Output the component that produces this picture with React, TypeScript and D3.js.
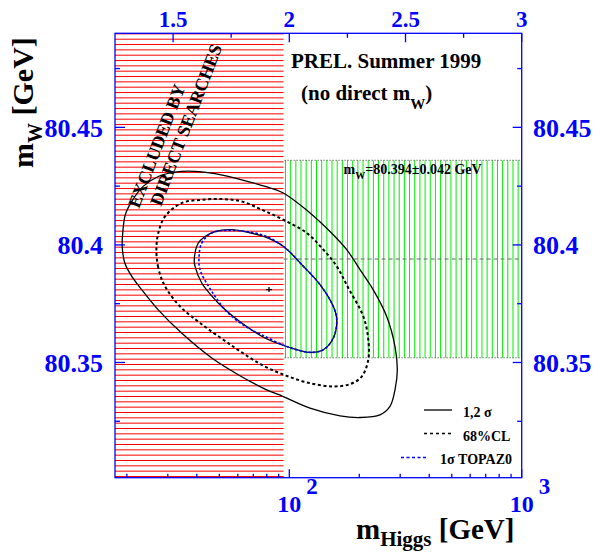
import React from 'react'
import * as d3 from 'd3'

const width = 593
const height = 552

const frame = { left: 115, right: 521.7, top: 33.3, bottom: 477.7 }

const serif = "'Liberation Serif', 'Times New Roman', serif"
const blue = '#0000ff'

// plot extents: Higgs mass (GeV, log) and W mass (GeV)
const mhDomain = [10 ** 1.25, 1000]
const mwDomain = [80.301, 80.49]

// tick values
const topTicks = [1.5, 2, 2.5, 3]
const topMinorTicks = [1.75, 2.25, 2.75]
const bottomLabelTicks = [100, 1000]
const bottomLabelPowers = ['2', '3']
const bottomMinorTicks = [20, 30, 40, 50, 60, 70, 80, 90, 200, 300, 400, 500, 600, 700, 800, 900]
const mwTicks = [80.35, 80.4, 80.45]
const mwTickLabels = ['80.35', '80.4', '80.45']
const mwMinorTicks = [80.325, 80.375, 80.425, 80.475]

// excluded by direct searches, and the direct mW measurement
const excludedLimit = 94.5
const mwDirect = 80.394
const mwDirectError = 0.042

// best fit point [mH, mW]
const fitPoint = [81.8, 80.381]

// contours, [mH (GeV), mW (GeV)]
const contour2Sigma = [
  [19.1, 80.3994], [19.2, 80.4051], [19.7, 80.4129], [21.0, 80.4185], [23.5, 80.4249],
  [27.3, 80.4291], [32.2, 80.431], [39.3, 80.4313], [47.9, 80.4303], [62.4, 80.4277],
  [78.6, 80.4249], [94.2, 80.4221], [122.8, 80.4136], [149.7, 80.4057], [176.6, 80.398],
  [201.5, 80.3895], [229.8, 80.3809], [262.5, 80.3696], [285.0, 80.3568], [291.6, 80.3469],
  [285.0, 80.3384], [271.2, 80.3313], [245.6, 80.3277], [201.5, 80.3266], [165.3, 80.3273],
  [122.8, 80.3306], [94.2, 80.3355], [78.6, 80.3387], [60.3, 80.3448], [46.4, 80.3519],
  [34.4, 80.3625], [27.3, 80.3724], [23.2, 80.3809], [21.0, 80.3866], [19.6, 80.3923],
]

const contour68 = [
  [26.8, 80.398], [27.2, 80.3911], [28.3, 80.3852], [29.8, 80.3809], [33.9, 80.3738],
  [41.3, 80.3668], [57.3, 80.3568], [76.1, 80.349], [97.5, 80.3443], [122.8, 80.3412],
  [154.7, 80.3398], [182.5, 80.3408], [204.9, 80.344], [218.8, 80.3512], [218.8, 80.3597],
  [208.2, 80.3696], [179.4, 80.3817], [160.0, 80.3909], [140.1, 80.398], [118.8, 80.4051],
  [94.2, 80.4107], [76.1, 80.415], [62.4, 80.4185], [51.2, 80.4195], [42.0, 80.4192],
  [34.4, 80.4178], [29.2, 80.4121], [27.3, 80.4051],
]

const contour1Sigma = [
  [39.0, 80.3937], [40.6, 80.4008], [43.4, 80.4036], [47.9, 80.4057], [56.5, 80.4065],
  [66.6, 80.4053], [78.6, 80.4034], [94.2, 80.3994], [114.9, 80.3909], [135.6, 80.3831],
  [154.7, 80.3738], [160.0, 80.3682], [154.7, 80.3604], [140.1, 80.3554], [122.8, 80.3543],
  [97.5, 80.3568], [78.6, 80.3604], [62.4, 80.3668], [51.2, 80.3738], [44.1, 80.3809],
  [42.0, 80.3838], [39.3, 80.3909],
]

const contourTopaz = [
  [40.9, 80.3951], [42.0, 80.4008], [46.4, 80.4051], [56.5, 80.4062], [76.1, 80.4043],
  [94.2, 80.3994], [114.9, 80.3909], [135.6, 80.3831], [154.7, 80.3738], [160.0, 80.3682],
  [154.7, 80.3604], [140.1, 80.3554], [122.8, 80.3543], [97.5, 80.3568], [76.1, 80.3618],
  [66.6, 80.3646], [54.6, 80.371], [46.4, 80.3802], [41.3, 80.3895],
]

const legendLabels = ['1,2 σ', '68%CL', '1σ TOPAZ0']

export default function App() {
  const x = d3.scaleLog().domain(mhDomain).range([frame.left, frame.right])
  const xTop = d3
    .scaleLinear()
    .domain(mhDomain.map((d) => Math.log10(d)))
    .range([frame.left, frame.right])
  const y = d3.scaleLinear().domain(mwDomain).range([frame.bottom, frame.top])

  const line = d3
    .line()
    .x((d) => x(d[0]))
    .y((d) => y(d[1]))
    .curve(d3.curveCatmullRomClosed.alpha(0.5))

  const xExcl = x(excludedLimit)
  const redLines = d3.range(frame.bottom - 1.2, frame.top, -5.333)
  const greenLines = d3.range(xExcl + 1.9, frame.right, 5.17)
  const bandTop = y(mwDirect + mwDirectError)
  const bandBottom = y(mwDirect - mwDirectError)

  const contourStyles = [
    { data: contour2Sigma, stroke: 'black', width: 1.3, dash: null },
    { data: contour68, stroke: 'black', width: 2, dash: '3,2.6' },
    { data: contour1Sigma, stroke: 'black', width: 1.3, dash: null },
    { data: contourTopaz, stroke: blue, width: 1.6, dash: '2.5,2' },
  ]

  const legendStyles = [
    { stroke: 'black', dash: null, x1: 424, x2: 452, y: 410, tx: 463, ty: 416.5 },
    { stroke: 'black', dash: '3,3', x1: 424, x2: 452, y: 433.5, tx: 463, ty: 440.5 },
    { stroke: blue, dash: '3,2.5', x1: 401, x2: 428, y: 457.5, tx: 440, ty: 463.5 },
  ]

  return (
    <svg
      width={width}
      height={height}
      style={{ position: 'absolute', left: 0, top: 0, background: 'white' }}
      fontFamily={serif}
      fontWeight="bold"
    >
      {/* excluded region */}
      {redLines.map((d, i) => (
        <line key={'r' + i} x1={frame.left} x2={xExcl} y1={d} y2={d} stroke="#ff0000" strokeWidth={1} />
      ))}
      {/* direct mW band */}
      {greenLines.map((d, i) => (
        <line key={'g' + i} x1={d} x2={d} y1={bandTop} y2={bandBottom} stroke="#00f000" strokeWidth={1} />
      ))}
      <line x1={xExcl + 1} x2={frame.right} y1={bandTop} y2={bandTop} stroke="black" strokeWidth={0.8} strokeDasharray="1,2" />
      <line x1={xExcl + 1} x2={frame.right} y1={bandBottom} y2={bandBottom} stroke="black" strokeWidth={0.8} strokeDasharray="1,2" />
      <line x1={xExcl} x2={frame.right} y1={y(mwDirect)} y2={y(mwDirect)} stroke="#666" strokeWidth={1} strokeDasharray="4,3" />
      <text x={(xExcl + frame.right) / 2 + 10} y={y(mwDirect + mwDirectError) + 14} textAnchor="middle" fontSize={14}>
        m<tspan dy={5} fontSize={10}>W</tspan>
        <tspan dy={-5}>={mwDirect}±{mwDirectError} GeV</tspan>
      </text>

      {/* contours */}
      {contourStyles.map((c, i) => (
        <path
          key={'c' + i}
          d={line(c.data)}
          fill="none"
          stroke={c.stroke}
          strokeWidth={c.width}
          strokeDasharray={c.dash || undefined}
        />
      ))}
      <g transform={`translate(${x(fitPoint[0])},${y(fitPoint[1])})`} stroke="black" strokeWidth={1.3}>
        <line x1={-3} x2={3} y1={0} y2={0} />
        <line x1={0} x2={0} y1={-2.5} y2={2.5} />
      </g>

      {/* excluded label */}
      <text transform="translate(139,209) rotate(-69)" fontSize={18}>EXCLUDED BY</text>
      <text transform="translate(161,207) rotate(-69)" fontSize={18}>DIRECT SEARCHES</text>

      {/* captions */}
      <text x={291} y={68.3} fontSize={21}>PREL. Summer 1999</text>
      <text x={301} y={100} fontSize={21}>
        (no direct m<tspan dy={9} fontSize={15}>W</tspan>
        <tspan dy={-9}>)</tspan>
      </text>

      {/* legend */}
      {legendStyles.map((l, i) => (
        <g key={'l' + i}>
          <line x1={l.x1} x2={l.x2} y1={l.y} y2={l.y} stroke={l.stroke} strokeWidth={1.3} strokeDasharray={l.dash || undefined} />
          <text x={l.tx} y={l.ty} fontSize={14}>{legendLabels[i]}</text>
        </g>
      ))}

      {/* frame */}
      <rect
        x={frame.left}
        y={frame.top}
        width={frame.right - frame.left}
        height={frame.bottom - frame.top}
        fill="none"
        stroke={blue}
        strokeWidth={1.3}
      />

      {/* top axis: log10 mH */}
      {topTicks.map((t) => (
        <g key={'tt' + t}>
          <line x1={xTop(t)} x2={xTop(t)} y1={frame.top} y2={frame.top + 9} stroke={blue} strokeWidth={1.3} />
          <text x={xTop(t)} y={27.3} textAnchor="middle" fontSize={23} fill={blue}>{t}</text>
        </g>
      ))}
      {topMinorTicks.map((t) => (
        <line key={'tm' + t} x1={xTop(t)} x2={xTop(t)} y1={frame.top} y2={frame.top + 4.5} stroke={blue} strokeWidth={1.3} />
      ))}

      {/* bottom axis: mH */}
      {bottomLabelTicks.map((t, i) => (
        <g key={'bt' + t}>
          <line x1={x(t)} x2={x(t)} y1={frame.bottom} y2={frame.bottom - 8.5} stroke={blue} strokeWidth={1.3} />
          <text x={x(t)} y={511.5} textAnchor="middle" fontSize={24} fill={blue}>10</text>
          <text x={x(t) + 17} y={494} fontSize={23} fill={blue}>{bottomLabelPowers[i]}</text>
        </g>
      ))}
      {bottomMinorTicks.map((t) => (
        <line key={'bm' + t} x1={x(t)} x2={x(t)} y1={frame.bottom} y2={frame.bottom - 4} stroke={blue} strokeWidth={1.3} />
      ))}

      {/* left and right axes: mW */}
      {mwTicks.map((t, i) => (
        <g key={'yt' + t}>
          <line x1={frame.left} x2={frame.left + 10} y1={y(t)} y2={y(t)} stroke={blue} strokeWidth={1.3} />
          <line x1={frame.right} x2={frame.right - 9} y1={y(t)} y2={y(t)} stroke={blue} strokeWidth={1.3} />
          <text x={103} y={y(t) + 9.5} textAnchor="end" fontSize={26} fill={blue}>{mwTickLabels[i]}</text>
          <text x={533} y={y(t) + 9.5} fontSize={26} fill={blue}>{mwTickLabels[i]}</text>
        </g>
      ))}
      {mwMinorTicks.map((t) => (
        <g key={'ym' + t}>
          <line x1={frame.left} x2={frame.left + 5} y1={y(t)} y2={y(t)} stroke={blue} strokeWidth={1.3} />
          <line x1={frame.right} x2={frame.right - 4.5} y1={y(t)} y2={y(t)} stroke={blue} strokeWidth={1.3} />
        </g>
      ))}

      {/* axis titles */}
      <text x={356} y={539} fontSize={29}>
        m<tspan dy={7} fontSize={21}>Higgs</tspan>
        <tspan dy={-7}> [GeV]</tspan>
      </text>
      <text transform="translate(33,168) rotate(-90)" fontSize={30}>
        m<tspan dy={9} fontSize={20}>W</tspan>
        <tspan dy={-9}> [GeV]</tspan>
      </text>
    </svg>
  )
}
